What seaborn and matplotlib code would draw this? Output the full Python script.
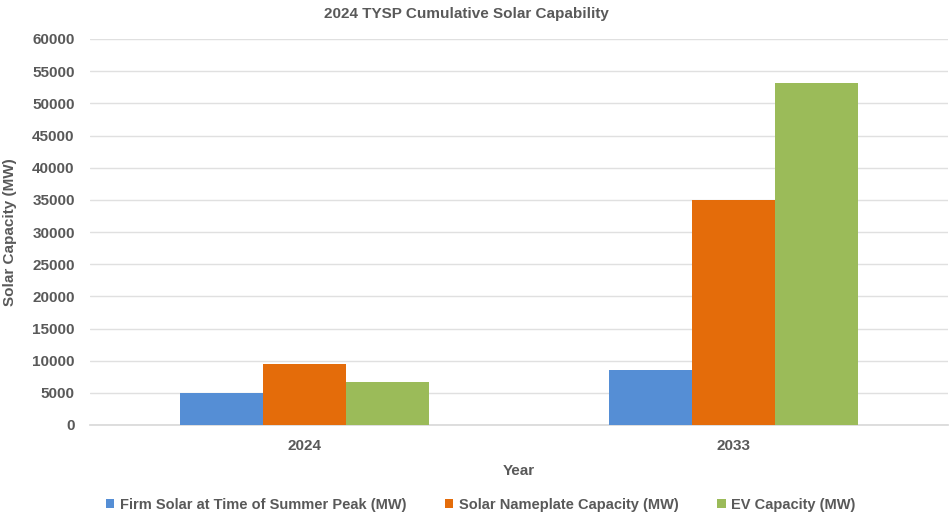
import pandas as pd
import numpy as np
import matplotlib
matplotlib.use('Agg')
import matplotlib.pyplot as plt
import seaborn as sns
from matplotlib.patches import Patch

# data
years = ['2024', '2033']
series = ['Firm Solar at Time of Summer Peak (MW)',
          'Solar Nameplate Capacity (MW)',
          'EV Capacity (MW)']
firm_solar = [4980, 8480]
nameplate = [9520, 34900]
ev_capacity = [6620, 53200]
colors = ['#558ED5', '#E46C0A', '#9BBB59']

df = pd.DataFrame({
    'Year': years * 3,
    'Series': [s for s in series for _ in years],
    'Value': firm_solar + nameplate + ev_capacity,
})

sns.set_theme(style='white')
plt.rcParams['font.family'] = ['Liberation Sans', 'DejaVu Sans']
text_color = '#595959'
fs = 11

fig = plt.figure(figsize=(9.52, 5.2), dpi=100)
ax = fig.add_axes([90/952, 1 - 425/520, 858/952, 386/520])

sns.barplot(data=df, x='Year', y='Value', hue='Series', palette=colors,
            width=0.58, saturation=1, ax=ax, legend=False, linewidth=0, zorder=3)

ax.set_ylim(0, 60000)
ax.set_xlim(-0.5, 1.5)
ax.set_yticks(np.arange(0, 60001, 5000))
ax.yaxis.grid(True, color='#E0E0E0', linewidth=1, zorder=0)
ax.set_axisbelow(True)
for side in ['top', 'right', 'left']:
    ax.spines[side].set_visible(False)
ax.spines['bottom'].set_color('#D9D9D9')
ax.tick_params(axis='both', length=0, colors=text_color, labelsize=fs)
for lab in ax.get_xticklabels() + ax.get_yticklabels():
    lab.set_fontweight('bold')
ax.tick_params(axis='y', pad=11)
ax.tick_params(axis='x', pad=10)

ax.set_xlabel('Year', fontsize=fs, fontweight='bold', color=text_color, labelpad=8)
ax.set_ylabel('Solar Capacity (MW)', fontsize=fs, fontweight='bold', color=text_color, va='center')
ax.yaxis.set_label_coords(-80/858, 0.5)
fig.text(0.49, 1 - 14/520, '2024 TYSP Cumulative Solar Capability', ha='center', va='center',
         fontsize=fs, fontweight='bold', color=text_color)

handles = [Patch(facecolor=c, edgecolor='none') for c in colors]
leg = fig.legend(handles, series, loc='center', bbox_to_anchor=(0.505, 1 - 505/520), ncol=3,
                 frameon=False, handlelength=0.6, handleheight=0.6, handletextpad=0.4,
                 columnspacing=2.6, prop={'size': 10.5, 'weight': 'bold'})
for t in leg.get_texts():
    t.set_color(text_color)

fig.savefig('out.png', dpi=100)
